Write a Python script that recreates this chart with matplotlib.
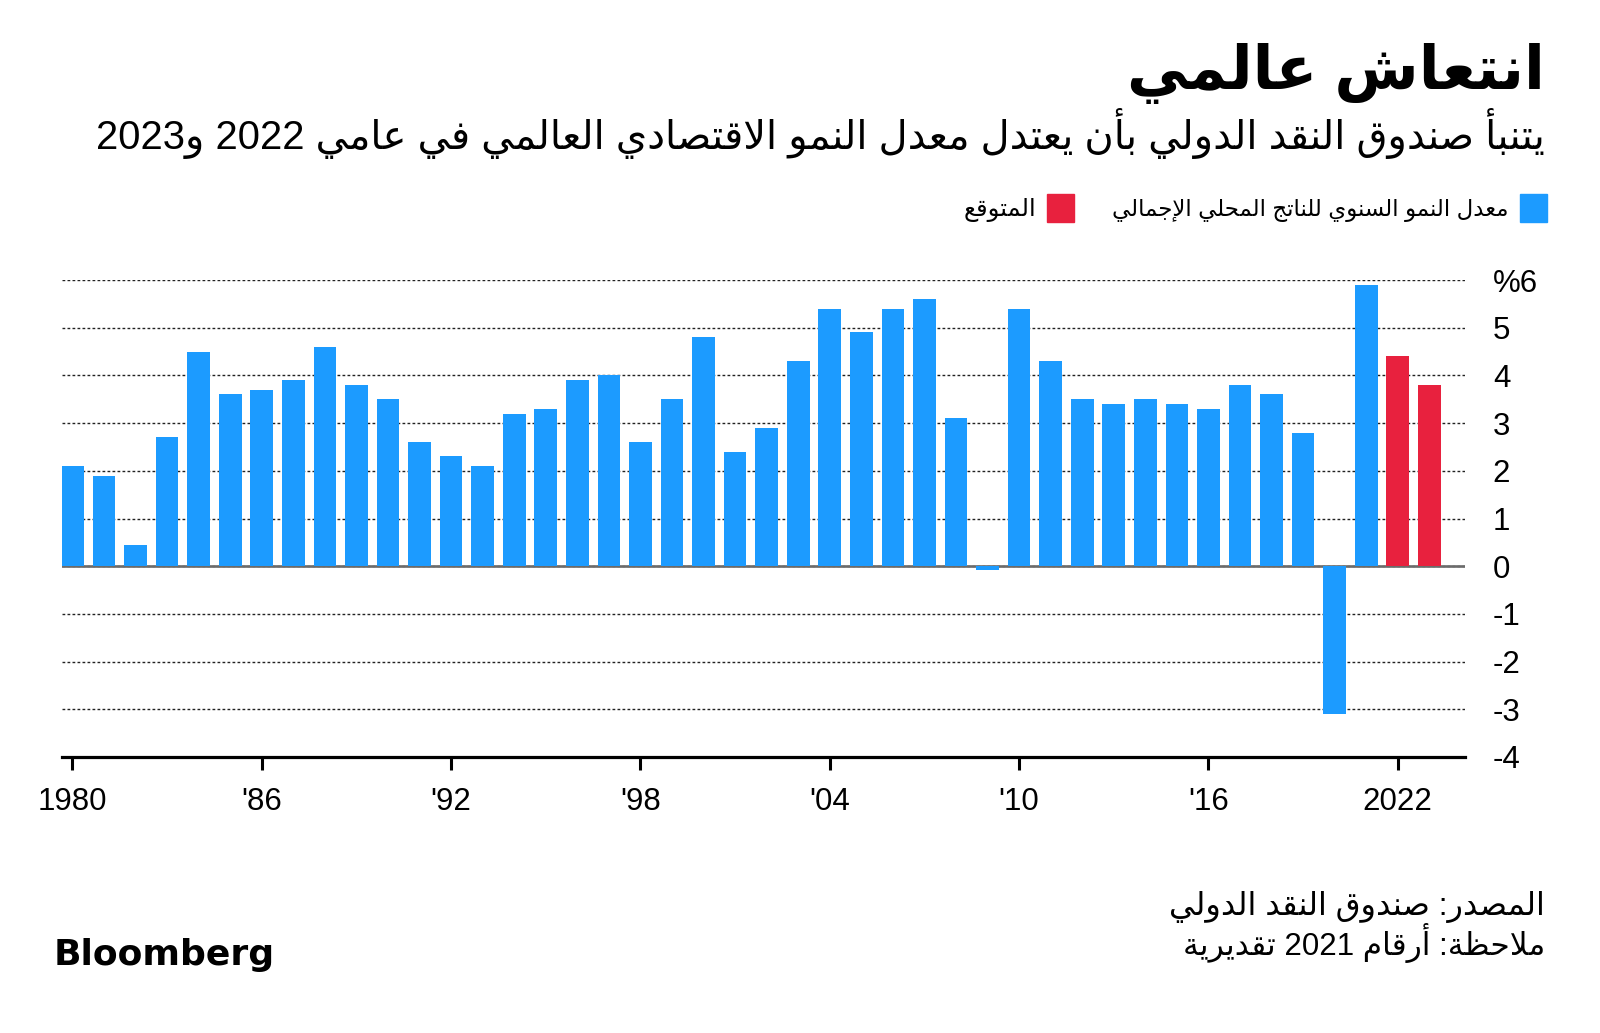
import re
import matplotlib
matplotlib.use("Agg")
import matplotlib.pyplot as plt
from matplotlib.patches import Rectangle

# =========================================================
# 数据
# =========================================================
actual_years = list(range(1980, 2022))
actual_growth = [
    2.1, 1.9, 0.45, 2.7, 4.5, 3.6, 3.7, 3.9, 4.6, 3.8,
    3.5, 2.6, 2.3, 2.1, 3.2, 3.3, 3.9, 4.0, 2.6, 3.5,
    4.8, 2.4, 2.9, 4.3, 5.4, 4.9, 5.4, 5.6, 3.1, -0.07,
    5.4, 4.3, 3.5, 3.4, 3.5, 3.4, 3.3, 3.8, 3.6, 2.8,
    -3.1, 5.9,
]
forecast_years = [2022, 2023]
forecast_growth = [4.4, 3.8]

x_ticks = [1980, 1986, 1992, 1998, 2004, 2010, 2016, 2022]
x_tick_labels = ["1980", "'86", "'92", "'98", "'04", "'10", "'16", "2022"]
y_ticks = [-4, -3, -2, -1, 0, 1, 2, 3, 4, 5, 6]
y_tick_labels = ["-4", "-3", "-2", "-1", "0", "1", "2", "3", "4", "5", "%6"]

title = "انتعاش عالمي"
subtitle = "يتنبأ صندوق النقد الدولي بأن يعتدل معدل النمو الاقتصادي العالمي في عامي 2022 و2023"
legend_actual = "معدل النمو السنوي للناتج المحلي الإجمالي"
legend_forecast = "المتوقع"
source = "المصدر: صندوق النقد الدولي"
note = "ملاحظة: أرقام 2021 تقديرية"

BLUE = "#1c9bff"
RED = "#e8213e"

# =========================================================
# 阿拉伯文字形连接 + 从右到左（matplotlib 自己不做）
# =========================================================
FORMS = {
    "ء": (0xFE80, 1), "آ": (0xFE81, 2), "أ": (0xFE83, 2), "ؤ": (0xFE85, 2),
    "إ": (0xFE87, 2), "ئ": (0xFE89, 4), "ا": (0xFE8D, 2), "ب": (0xFE8F, 4),
    "ة": (0xFE93, 2), "ت": (0xFE95, 4), "ث": (0xFE99, 4), "ج": (0xFE9D, 4),
    "ح": (0xFEA1, 4), "خ": (0xFEA5, 4), "د": (0xFEA9, 2), "ذ": (0xFEAB, 2),
    "ر": (0xFEAD, 2), "ز": (0xFEAF, 2), "س": (0xFEB1, 4), "ش": (0xFEB5, 4),
    "ص": (0xFEB9, 4), "ض": (0xFEBD, 4), "ط": (0xFEC1, 4), "ظ": (0xFEC5, 4),
    "ع": (0xFEC9, 4), "غ": (0xFECD, 4), "ف": (0xFED1, 4), "ق": (0xFED5, 4),
    "ك": (0xFED9, 4), "ل": (0xFEDD, 4), "م": (0xFEE1, 4), "ن": (0xFEE5, 4),
    "ه": (0xFEE9, 4), "و": (0xFEED, 2), "ى": (0xFEEF, 2), "ي": (0xFEF1, 4),
}
LAM_ALEF = {"ا": 0xFEFB, "أ": 0xFEF7, "إ": 0xFEF9, "آ": 0xFEF5}


def shape(text):
    out = []
    prev_joins = False
    i = 0
    while i < len(text):
        ch = text[i]
        if ch == "ل" and i + 1 < len(text) and text[i + 1] in LAM_ALEF:
            out.append(chr(LAM_ALEF[text[i + 1]] + (1 if prev_joins else 0)))
            prev_joins = False
            i += 2
            continue
        if ch in FORMS:
            base, nforms = FORMS[ch]
            nxt = text[i + 1] if i + 1 < len(text) else ""
            to_next = nforms == 4 and nxt in FORMS and FORMS[nxt][1] > 1
            if prev_joins and to_next:
                code = base + 3
            elif prev_joins and nforms > 1:
                code = base + 1
            elif to_next:
                code = base + 2
            else:
                code = base
            out.append(chr(code))
            prev_joins = nforms == 4
        else:
            out.append(ch)
            prev_joins = False
        i += 1
    return "".join(out)


def ar(text):
    tokens = re.findall(r"[0-9A-Za-z%.,]+|.", shape(text))
    return "".join(reversed(tokens))


# =========================================================
# 画图
# =========================================================
W, H = 1600, 1033
AR_FONT = ["Liberation Sans", "DejaVu Sans"]
NUM_FONT = ["Liberation Sans", "DejaVu Sans"]
plt.rcParams["font.family"] = NUM_FONT

fig = plt.figure(figsize=(W / 100, H / 100), dpi=100)
fig.patch.set_facecolor("white")


def fx(x):
    return x / W


def fy(y):
    return 1 - y / H


ax = fig.add_axes([fx(61.7), fy(757), (1465 - 61.7) / W, 477 / H])

ax.bar(actual_years, actual_growth, width=0.72, color=BLUE, zorder=3)
ax.bar(forecast_years, forecast_growth, width=0.72, color=RED, zorder=3)
ax.axhline(0, color="#6b6b6b", lw=1.9, zorder=2)

ax.set_xlim(1979.66, 2024.13)
ax.set_ylim(-4, 6)

for s in ["top", "left", "right"]:
    ax.spines[s].set_visible(False)
ax.spines["bottom"].set_linewidth(2.3)
ax.spines["bottom"].set_color("black")

ax.set_xticks(x_ticks)
ax.set_xticklabels(x_tick_labels)
ax.tick_params(axis="x", length=9.5, width=2.2, color="black", pad=12,
               labelsize=22.5, labelcolor="black")

ax.yaxis.tick_right()
ax.set_yticks(y_ticks)
ax.set_yticklabels(y_tick_labels)
ax.tick_params(axis="y", length=0, pad=20, labelsize=22.5, labelcolor="black")

ax.set_axisbelow(True)
ax.grid(axis="y", color="#222222", lw=1.0, linestyle=(0, (2, 1.6)))
ax.grid(axis="x", visible=False)

# 标题
fig.text(fx(1545), fy(89), ar(title), ha="right", va="baseline",
         fontsize=44, fontweight="bold", family=AR_FONT)
fig.text(fx(1545), fy(149), ar(subtitle), ha="right", va="baseline",
         fontsize=28.8, family=AR_FONT)

# 图例（右到左）
fig.add_artist(Rectangle((fx(1520), fy(222)), 27 / W, 28 / H,
                         transform=fig.transFigure, color=BLUE))
fig.text(fx(1508), fy(216), ar(legend_actual), ha="right", va="baseline",
         fontsize=16.5, family=AR_FONT)
fig.add_artist(Rectangle((fx(1047), fy(222)), 27 / W, 28 / H,
                         transform=fig.transFigure, color=RED))
fig.text(fx(1036), fy(216), ar(legend_forecast), ha="right", va="baseline",
         fontsize=17.5, family=AR_FONT)

# 来源与注释
fig.text(fx(1545), fy(915), ar(source), ha="right", va="baseline",
         fontsize=23, family=AR_FONT)
fig.text(fx(1545), fy(955), ar(note), ha="right", va="baseline",
         fontsize=22.5, family=AR_FONT)

fig.text(fx(54), fy(965), "Bloomberg", ha="left", va="baseline",
         fontsize=26, fontweight="bold", family=["DejaVu Sans"])

fig.savefig("out.png", dpi=100, facecolor="white")
